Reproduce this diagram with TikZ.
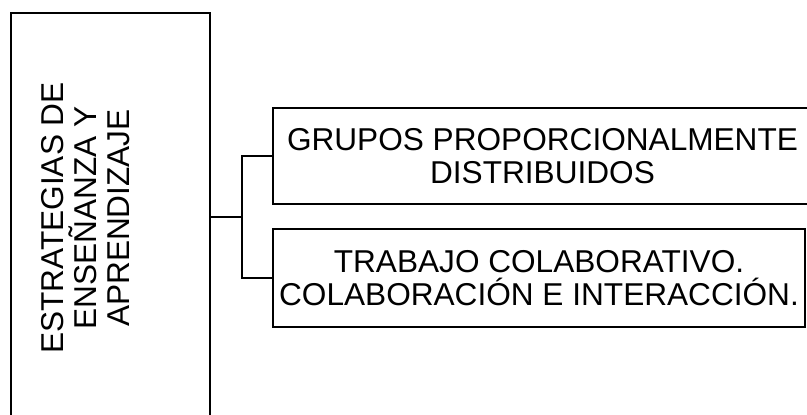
\documentclass[tikz,border=0pt]{standalone}
\usepackage{fontspec}
\setmainfont{Liberation Sans}
\begin{document}
\begin{tikzpicture}[x=1pt, y=-1pt,
  box/.style={draw, line width=1.8pt, inner sep=0pt, align=center, font=\fontsize{31.6}{33}\selectfont},
  link/.style={line width=1.8pt}]
  \useasboundingbox (0,0) rectangle (807,415);
  \clip (0,0) rectangle (807,415);
  \node[box, minimum width=199, minimum height=427] (estr) at (110.5,226.5) {};
  \node[align=center, rotate=90, inner sep=0pt, font=\fontsize{31.6}{33}\selectfont] (estrtxt) at (86,218) {ESTRATEGIAS DE\\ENSEÑANZA Y\\APRENDIZAJE};
  \node[box, minimum width=539, minimum height=96] (grupos) at (542.5,156) {GRUPOS PROPORCIONALMENTE\\DISTRIBUIDOS};
  \node[box, minimum width=532, minimum height=98] (trabajo) at (539,278) {TRABAJO COLABORATIVO.\\COLABORACIÓN E INTERACCIÓN.};
  \coordinate (fork) at (242,217);
  \draw[link] (estr.east |- fork) -- (fork);
  \draw[link] (grupos.west) -- (fork |- grupos.west) -- (fork |- trabajo.west) -- (trabajo.west);
\end{tikzpicture}
\end{document}
